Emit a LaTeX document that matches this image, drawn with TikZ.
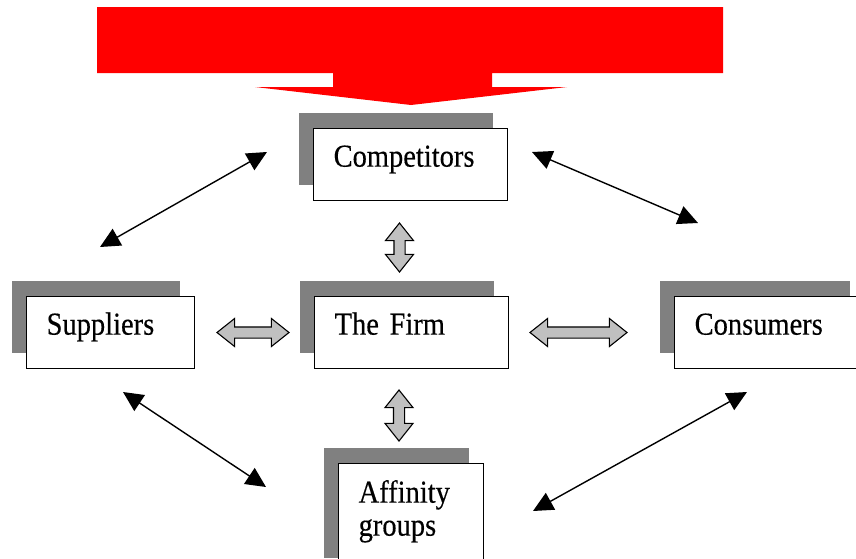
\documentclass[tikz,border=0pt]{standalone}
\usepackage{fontspec}
\setmainfont{Liberation Serif}[FakeStretch=0.89,FakeBold=0.35]
\usetikzlibrary{arrows.meta,shapes.arrows,shadows}

\definecolor{shadowgray}{RGB}{128,128,128}
\definecolor{linkgray}{RGB}{192,192,192}
\definecolor{bannerred}{RGB}{255,0,0}

\tikzset{
  card/.style={draw, line width=1.3pt, fill=white, anchor=north west,
    inner xsep=20pt, inner ysep=0pt, text width=#1, align=left,
    text height=38pt, text depth=34pt, font=\fontsize{32}{33}\selectfont,
    drop shadow={shadow xshift=-15pt, shadow yshift=16pt, fill=shadowgray, opacity=1}},
  link/.style={double arrow, draw, line width=1.1pt, fill=linkgray, inner sep=5pt,
    minimum height=#1, double arrow head extend=8.5pt, double arrow tip angle=77},
  tie/.style={{Triangle[length=20pt,width=19pt]}-{Triangle[length=20pt,width=19pt]}, line width=1.4pt},
}

\begin{document}
\begin{tikzpicture}[x=1pt,y=-1pt]
  \useasboundingbox (0,0) rectangle (856,558);

  % banner arrow
  \fill[bannerred] (97,7) -- (723,7) -- (723,73) -- (492,73) -- (492,87) -- (567,87)
    -- (411,105) -- (255,87) -- (333,87) -- (333,73) -- (97,73) -- cycle;

  % boxes
  \node[card=154pt] (comp) at (313,128) {Competitors};
  \node[card=128pt] (sup) at (26,296) {Suppliers};
  \node[card=154pt] (firm) at (314,296) {The Firm};
  \node[card=150pt] (cons) at (674,296) {Consumers};
  \node[card=105pt, text height=39pt, text depth=71pt] (aff) at (338,463) {Affinity\\groups};

  % two-way links to the firm
  \node[link=72pt] (supfirm) at (253,332.5) {};
  \node[link=97pt] (firmcons) at (578.5,332.5) {};
  \node[link=49pt, rotate=90] (compfirm) at (399.5,247.5) {};
  \node[link=51pt, rotate=90] (firmaff) at (399,415.5) {};

  % outer ties
  \coordinate (supup) at (100,247);
  \coordinate (compleft) at (267,152);
  \coordinate (compright) at (532,152);
  \coordinate (consup) at (698,223);
  \coordinate (supdown) at (123,392);
  \coordinate (affleft) at (266,487);
  \coordinate (consdown) at (747,392);
  \coordinate (affright) at (533,511);

  \draw[tie] (supup) -- (compleft);
  \draw[tie] (compright) -- (consup);
  \draw[tie] (supdown) -- (affleft);
  \draw[tie] (consdown) -- (affright);
\end{tikzpicture}
\end{document}
